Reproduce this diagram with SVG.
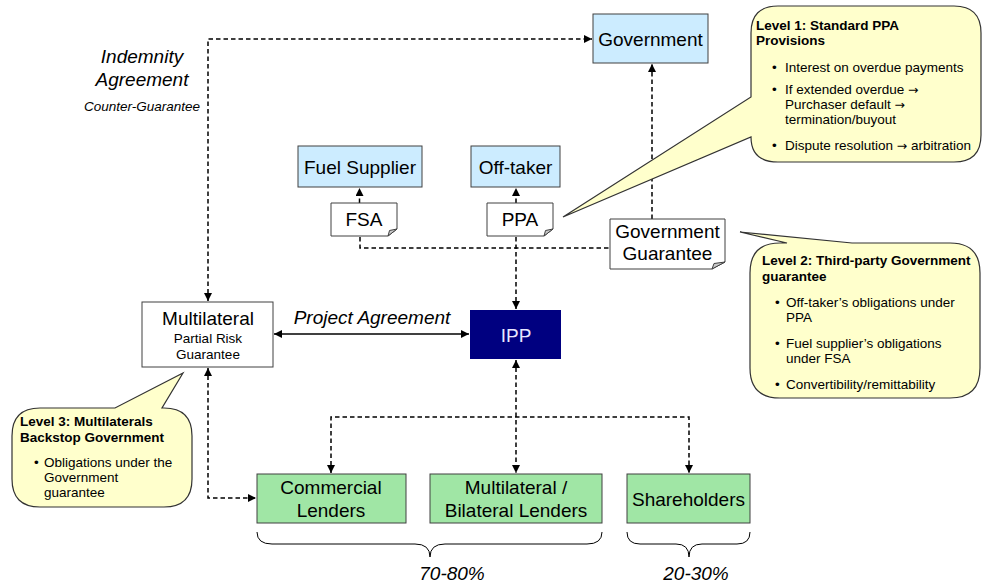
<svg xmlns="http://www.w3.org/2000/svg" width="982" height="588" viewBox="0 0 982 588">
<style>
text{font-family:"Liberation Sans",Arial,sans-serif;fill:#000}
.lg{font-size:19px}
.md{font-size:13.5px}
.it{font-style:italic}
.b{font-weight:bold}
.mid{text-anchor:middle}
.arr{font-family:"DejaVu Sans",sans-serif;font-size:12.5px}
.blue{fill:#CCECFF;stroke:#404040;stroke-width:1}
.green{fill:#A0E6A5;stroke:#404040;stroke-width:1}
.doc{fill:#FFFFFF;stroke:#404040;stroke-width:1}
.fold{fill:#C8C8C8;stroke:#404040;stroke-width:1}
.call{fill:#FFFFCC;stroke:#333333;stroke-width:1.2}
.dash{fill:none;stroke:#000;stroke-width:1.5;stroke-dasharray:4.5,3}
.solid{fill:none;stroke:#000;stroke-width:1.5}
</style>
<defs>
<marker id="ah" viewBox="0 0 10 10" refX="10" refY="5" markerWidth="8" markerHeight="8" markerUnits="userSpaceOnUse" orient="auto-start-reverse">
<path d="M0,0 L10,5 L0,10 z" fill="#000"/>
</marker>
</defs>

<g id="connectors">
<path class="dash" d="M208,301 V39 H592" marker-start="url(#ah)" marker-end="url(#ah)"/>
<path class="dash" d="M652,219 V64" marker-end="url(#ah)"/>
<path class="dash" d="M359.5,203 V188" marker-end="url(#ah)"/>
<path class="dash" d="M516,203 V188" marker-end="url(#ah)"/>
<path class="dash" d="M360,237 V248 H610"/>
<path class="dash" d="M516,237 V309"/>
<path d="M516,300 V309" stroke="none" marker-end="url(#ah)"/>
<path class="dash" d="M516,360 V473" marker-start="url(#ah)" marker-end="url(#ah)"/>
<path class="dash" d="M331,473 V417 H689 V473" marker-start="url(#ah)" marker-end="url(#ah)"/>
<path class="dash" d="M208,368 V498 H256" marker-start="url(#ah)" marker-end="url(#ah)"/>
<path class="solid" d="M274,334 H469" marker-start="url(#ah)" marker-end="url(#ah)"/>
</g>

<g id="indemnity-label">
<text class="lg it mid" x="142" y="63">Indemnity</text>
<text class="lg it mid" x="142" y="86">Agreement</text>
<text class="md it mid" x="142" y="111">Counter-Guarantee</text>
</g>

<g id="project-agreement-label">
<text class="lg it mid" x="372" y="324">Project Agreement</text>
</g>

<g id="government">
<rect class="blue" x="593" y="14" width="115" height="49"/>
<text class="lg mid" x="650.5" y="46">Government</text>
</g>

<g id="fuel-supplier">
<rect class="blue" x="298" y="146" width="124" height="41"/>
<text class="lg mid" x="360" y="174">Fuel Supplier</text>
</g>

<g id="off-taker">
<rect class="blue" x="471" y="146" width="89" height="41"/>
<text class="lg mid" x="515.5" y="174">Off-taker</text>
</g>

<g id="fsa">
<path class="doc" d="M331,203 H397 V229 L388,236 H331 Z"/>
<path class="fold" d="M397,229 L388,236 L389.5,230.5 Z"/>
<text class="lg mid" x="364" y="226">FSA</text>
</g>

<g id="ppa">
<path class="doc" d="M487,203 H553 V229 L544,236 H487 Z"/>
<path class="fold" d="M553,229 L544,236 L545.5,230.5 Z"/>
<text class="lg mid" x="520" y="226">PPA</text>
</g>

<g id="government-guarantee">
<path class="doc" d="M610,219 H725 V262 L712,269 H610 Z"/>
<path class="fold" d="M725,262 L712,269 L714,263.5 Z"/>
<text class="lg mid" x="667.5" y="238">Government</text>
<text class="lg mid" x="667.5" y="260">Guarantee</text>
</g>

<g id="multilateral">
<rect x="142" y="302" width="131" height="65" fill="#FFFFFF" stroke="#404040" stroke-width="1"/>
<text class="lg mid" x="208" y="325">Multilateral</text>
<text class="md mid" x="208" y="343">Partial Risk</text>
<text class="md mid" x="208" y="359">Guarantee</text>
</g>

<g id="ipp">
<rect x="470" y="310" width="91" height="49" fill="#000080"/>
<text class="lg mid" x="516" y="342" style="fill:#E8E8FF">IPP</text>
</g>

<g id="commercial-lenders">
<rect class="green" x="257" y="474" width="149" height="49"/>
<text class="lg mid" x="331" y="494">Commercial</text>
<text class="lg mid" x="331" y="517">Lenders</text>
</g>

<g id="multilateral-bilateral-lenders">
<rect class="green" x="430" y="474" width="172" height="49"/>
<text class="lg mid" x="516" y="494">Multilateral /</text>
<text class="lg mid" x="516" y="517">Bilateral Lenders</text>
</g>

<g id="shareholders">
<rect class="green" x="627" y="474" width="123" height="49"/>
<text class="lg mid" x="688.5" y="506">Shareholders</text>
</g>

<g id="brace-lenders">
<path d="M257,532 Q257,544 272,544 H415 Q430,544 430,557 Q430,544 445,544 H587 Q602,544 602,532" fill="none" stroke="#000" stroke-width="1"/>
<text class="lg it mid" x="452" y="580">70-80%</text>
</g>

<g id="brace-equity">
<path d="M627,532 Q627,544 640,544 H676 Q689,544 689,557 Q689,544 702,544 H737 Q750,544 750,532" fill="none" stroke="#000" stroke-width="1"/>
<text class="lg it mid" x="696" y="580">20-30%</text>
</g>

<g id="callout-level1">
<path class="call" d="M778,6 H954 Q981,6 981,33 V135 Q981,162 954,162 H778 Q751,162 751,137 L563,217 L751,97 V33 Q751,6 778,6 Z"/>
<text class="md b" x="756" y="30">Level 1: Standard PPA</text>
<text class="md b" x="756" y="45">Provisions</text>
<text class="md" x="772" y="72">•</text>
<text class="md" x="785" y="72">Interest on overdue payments</text>
<text class="md" x="772" y="94">•</text>
<text class="md" x="785" y="94">If extended overdue <tspan class="arr">→</tspan></text>
<text class="md" x="785" y="109">Purchaser default <tspan class="arr">→</tspan></text>
<text class="md" x="785" y="124">termination/buyout</text>
<text class="md" x="772" y="150">•</text>
<text class="md" x="785" y="150">Dispute resolution <tspan class="arr">→</tspan> arbitration</text>
</g>

<g id="callout-level2">
<path class="call" d="M750,273 Q750,243 780,243 H787 L740,232 L852,243 H950 Q980,243 980,273 V368 Q980,398 950,398 H780 Q750,398 750,368 Z"/>
<text class="md b" x="762" y="265">Level 2: Third-party Government</text>
<text class="md b" x="762" y="281">guarantee</text>
<text class="md" x="775" y="307">•</text>
<text class="md" x="786" y="307">Off-taker’s obligations under</text>
<text class="md" x="786" y="322">PPA</text>
<text class="md" x="775" y="348">•</text>
<text class="md" x="786" y="348">Fuel supplier’s obligations</text>
<text class="md" x="786" y="363">under FSA</text>
<text class="md" x="775" y="389">•</text>
<text class="md" x="786" y="389">Convertibility/remittability</text>
</g>

<g id="callout-level3">
<path class="call" d="M12,436 Q12,408 40,408 H115 L183,373 L162,408 H164 Q192,408 192,436 V479 Q192,507 164,507 H40 Q12,507 12,479 Z"/>
<text class="md b" x="20" y="426">Level 3: Multilaterals</text>
<text class="md b" x="20" y="442">Backstop Government</text>
<text class="md" x="34" y="467">•</text>
<text class="md" x="44" y="467">Obligations under the</text>
<text class="md" x="44" y="482">Government</text>
<text class="md" x="44" y="497">guarantee</text>
</g>
</svg>
